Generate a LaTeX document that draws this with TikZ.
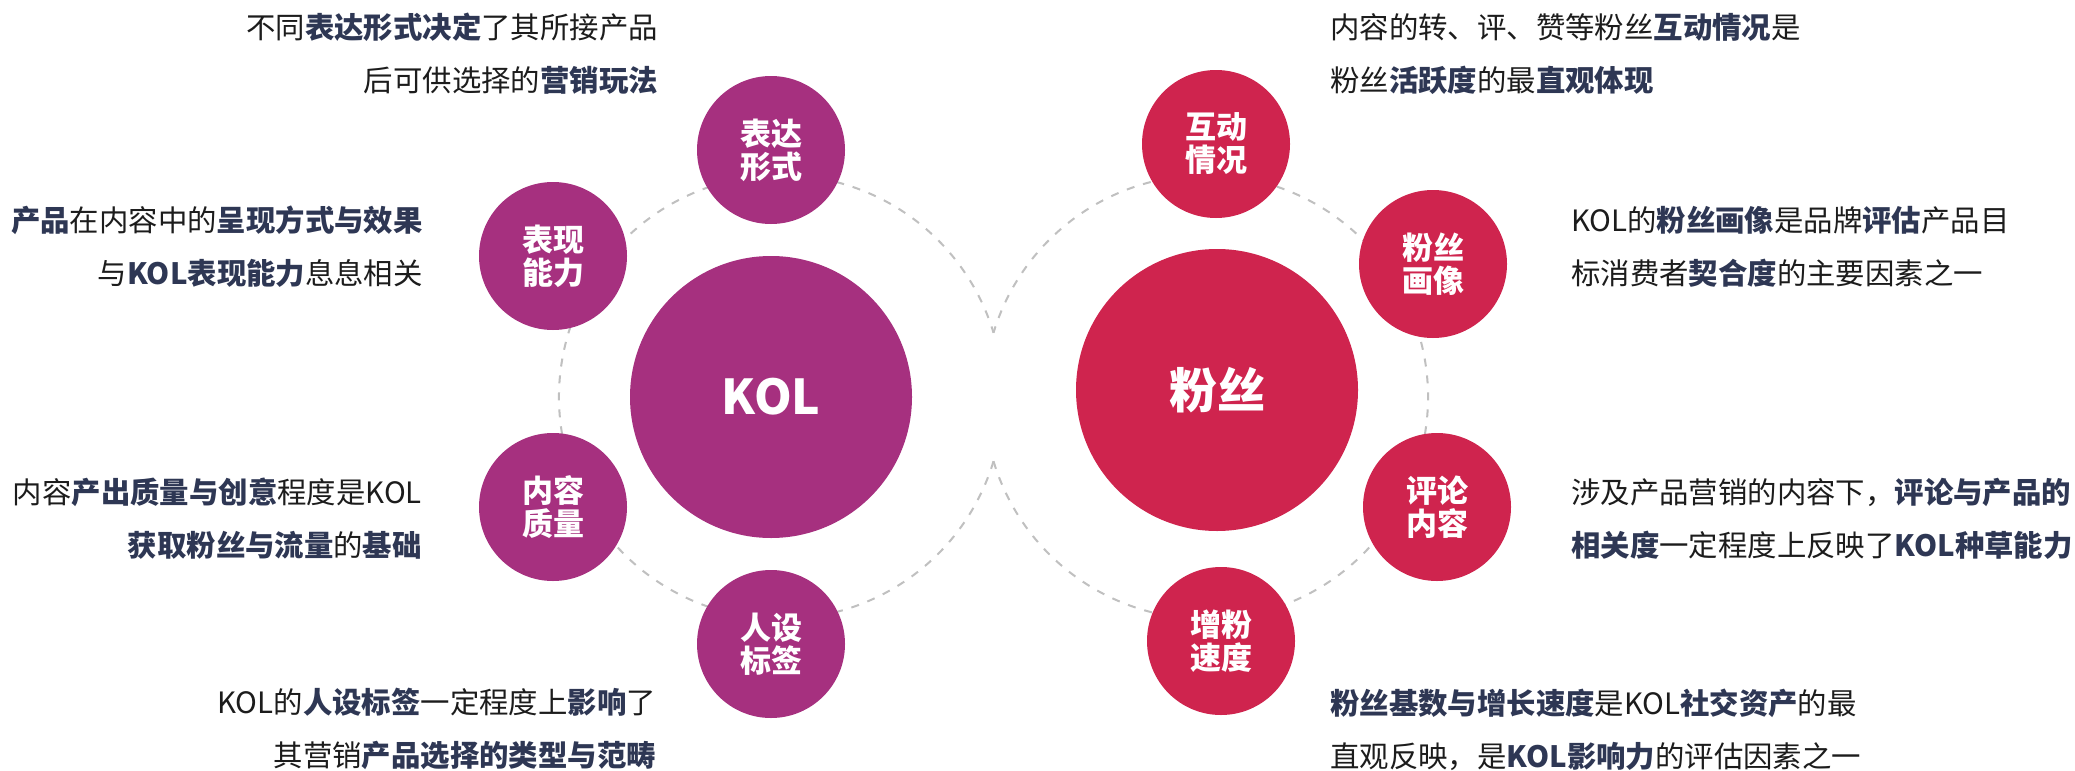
\documentclass[tikz,border=0pt]{standalone}
\usepackage{fontspec}
\setmainfont{Noto Sans CJK SC}
\definecolor{kolpurple}{HTML}{A6307F}
\definecolor{fanred}{HTML}{CF244E}
\definecolor{navy}{HTML}{2E3754}
\definecolor{bodytxt}{HTML}{1C1C1C}
\definecolor{orbitgray}{HTML}{C0C0C0}
\newcommand\kw[1]{\textbf{\color{navy}#1}}
\begin{document}
\begin{tikzpicture}[x=1pt,y=-1pt,
  orbit/.style={draw=orbitgray, line width=2pt, dash pattern=on 8pt off 9pt},
  bigdot/.style={circle, minimum size=282pt, inner sep=0pt, text=white,
    font=\fontsize{48}{48}\selectfont\bfseries},
  smalldot/.style={circle, minimum size=148pt, inner sep=0pt, text=white, align=center,
    font=\fontsize{31}{33}\selectfont\bfseries},
  kolfill/.style={fill=kolpurple},
  fanfill/.style={fill=fanred},
  desc/.style={inner sep=0pt, text=bodytxt, font=\fontsize{29.4}{53}\selectfont},
  descl/.style={desc, anchor=east, align=right},
  descr/.style={desc, anchor=west, align=left}
]
\fill[white] (0,0) rectangle (2075,771);
\useasboundingbox (0,0) rectangle (2075,771);

% orbits
\coordinate (lorb) at (781,397);
\coordinate (rorb) at (1206,397);
\draw[orbit] (lorb) ++(16.8:222) arc[start angle=16.8, end angle=343.2, radius=222];
\draw[orbit] (rorb) ++(163.2:222) arc[start angle=163.2, end angle=-163.2, radius=222];

% KOL side
\node[bigdot, kolfill] (kol) at (771,397) {KOL};
\node[smalldot, kolfill] (biaoda) at (771,150) {表达\\形式};
\node[smalldot, kolfill] (biaoxian) at (553,256) {表现\\能力};
\node[smalldot, kolfill] (neirong) at (553,507) {内容\\质量};
\node[smalldot, kolfill] (renshe) at (771,644) {人设\\标签};

% fans side
\node[bigdot, fanfill] (fans) at (1217,390) {粉丝};
\node[smalldot, fanfill] (hudong) at (1216,144) {互动\\情况};
\node[smalldot, fanfill] (huaxiang) at (1433,264) {粉丝\\画像};
\node[smalldot, fanfill] (pinglun) at (1437,507) {评论\\内容};
\node[smalldot, fanfill] (zengfen) at (1221,641) {增粉\\速度};

% left descriptions
\node[descl] (t1) at (658,53.5) {不同\kw{表达形式决定}了其所接产品\\后可供选择的\kw{营销玩法}};
\node[descl] (t2) at (423,247) {\kw{产品}在内容中的\kw{呈现方式与效果}\\与\kw{KOL表现能力}息息相关};
\node[descl] (t3) at (422,519) {内容\kw{产出质量与创意}程度是KOL\\\kw{获取粉丝与流量}的\kw{基础}};
\node[descl] (t4) at (656,729) {KOL的\kw{人设标签}一定程度上\kw{影响}了\\其营销\kw{产品选择的类型与范畴}};

% right descriptions
\node[descr] (t5) at (1330,53.5) {内容的转、评、赞等粉丝\kw{互动情况}是\\粉丝\kw{活跃度}的最\kw{直观体现}};
\node[descr] (t6) at (1571,247) {KOL的\kw{粉丝画像}是品牌\kw{评估}产品目\\标消费者\kw{契合度}的主要因素之一};
\node[descr] (t7) at (1571,519) {涉及产品营销的内容下，\kw{评论与产品的}\\\kw{相关度}一定程度上反映了\kw{KOL种草能力}};
\node[descr] (t8) at (1330,730) {\kw{粉丝基数与增长速度}是KOL\kw{社交资产}的最\\直观反映，是\kw{KOL影响力}的评估因素之一};
\end{tikzpicture}
\end{document}
